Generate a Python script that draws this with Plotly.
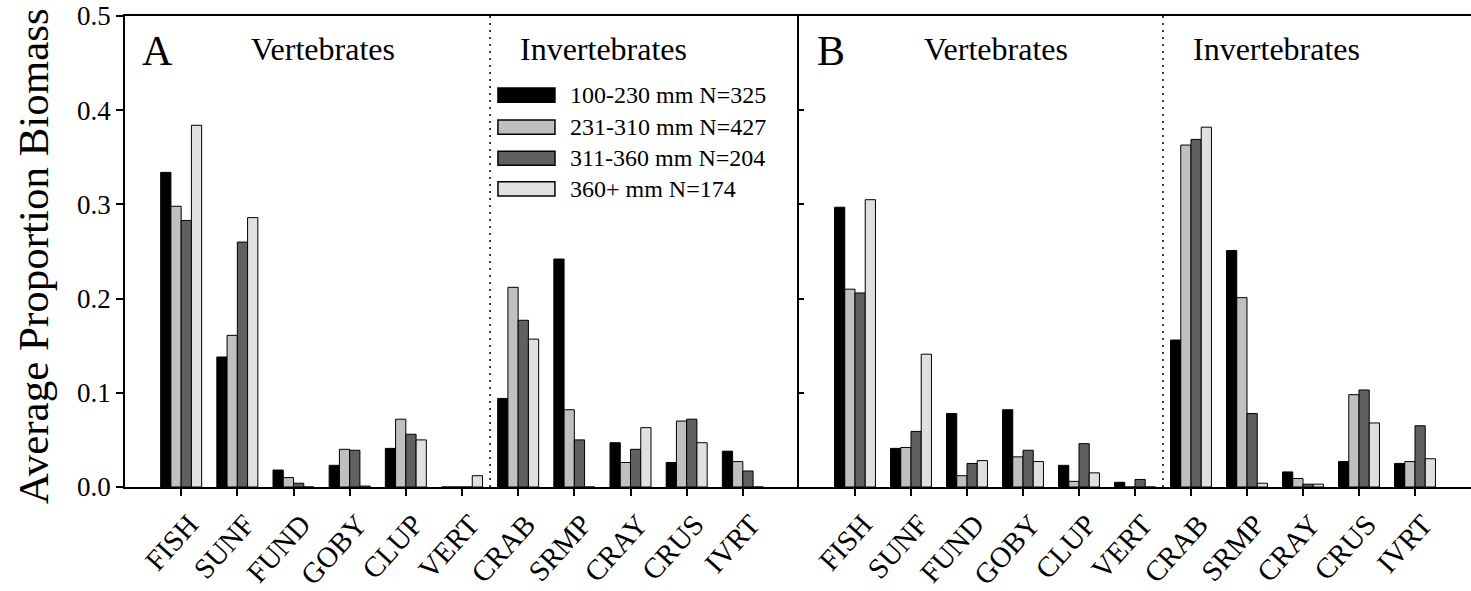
import plotly.graph_objects as go

categories = ["FISH", "SUNF", "FUND", "GOBY", "CLUP", "VERT", "CRAB", "SRMP", "CRAY", "CRUS", "IVRT"]
series_labels = ["100-230 mm N=325", "231-310 mm N=427", "311-360 mm N=204", "360+ mm N=174"]
series_colors = ["#000000", "#c0c0c0", "#606060", "#e0e0e0"]

# Panel A values (per size class)
a_100_230 = [0.334, 0.138, 0.018, 0.023, 0.041, 0.0, 0.094, 0.242, 0.047, 0.026, 0.038]
a_231_310 = [0.298, 0.161, 0.010, 0.040, 0.072, 0.0, 0.212, 0.082, 0.026, 0.070, 0.027]
a_311_360 = [0.283, 0.260, 0.004, 0.039, 0.056, 0.0, 0.177, 0.050, 0.040, 0.072, 0.017]
a_360_plus = [0.384, 0.286, 0.0, 0.001, 0.050, 0.012, 0.157, 0.0, 0.063, 0.047, 0.0]

# Panel B values
b_100_230 = [0.297, 0.041, 0.078, 0.082, 0.023, 0.005, 0.156, 0.251, 0.016, 0.027, 0.025]
b_231_310 = [0.210, 0.042, 0.012, 0.032, 0.006, 0.0, 0.363, 0.201, 0.009, 0.098, 0.027]
b_311_360 = [0.206, 0.059, 0.025, 0.039, 0.046, 0.008, 0.369, 0.078, 0.003, 0.103, 0.065]
b_360_plus = [0.305, 0.141, 0.028, 0.027, 0.015, 0.0, 0.382, 0.004, 0.003, 0.068, 0.030]

panel_labels = ["A", "B"]
group_labels = ["Vertebrates", "Invertebrates"]
y_title = "Average Proportion Biomass"

FONT = "Liberation Serif"

fig = go.Figure()
panel_a = [a_100_230, a_231_310, a_311_360, a_360_plus]
panel_b = [b_100_230, b_231_310, b_311_360, b_360_plus]

for i, vals in enumerate(panel_a):
    fig.add_trace(go.Bar(x=categories, y=vals, name=series_labels[i], marker=dict(color=series_colors[i], line=dict(color="black", width=1)),
                         xaxis="x", yaxis="y", offsetgroup=str(i), showlegend=False))
for i, vals in enumerate(panel_b):
    fig.add_trace(go.Bar(x=categories, y=vals, name=series_labels[i], marker=dict(color=series_colors[i], line=dict(color="black", width=1)),
                         xaxis="x2", yaxis="y2", offsetgroup=str(i), showlegend=False))

split = 674 / 1346
common_x = dict(type="category", range=[-1, 11], showline=True, linecolor="black", linewidth=1.5,
                ticks="outside", ticklen=7, tickwidth=1.5, tickcolor="black", tickangle=-48,
                ticklabelshift=8, automargin=False,
                tickfont=dict(family=FONT, size=29, color="black"), mirror=True, showgrid=False, zeroline=False)
fig.update_layout(
    width=1471, height=591,
    margin=dict(l=125, r=0, t=16, b=104),
    paper_bgcolor="white", plot_bgcolor="white",
    barmode="group", bargap=0.27, bargroupgap=0,
    xaxis=dict(domain=[0, split], anchor="y", **common_x),
    xaxis2=dict(domain=[split, 1], anchor="y2", **common_x),
    yaxis=dict(range=[0, 0.5], dtick=0.1, tickformat=".1f", showline=True, linecolor="black", linewidth=1.5,
               ticks="outside", ticklen=7, tickwidth=1.5, tickcolor="black", showgrid=False, zeroline=False,
               automargin=False,
               tickfont=dict(family=FONT, size=27, color="black"), anchor="x"),
    yaxis2=dict(range=[0, 0.5], dtick=0.1, showline=True, linecolor="black", linewidth=1.5,
                ticks="inside", ticklen=5, tickwidth=1.5, tickcolor="black", showticklabels=False,
                showgrid=False, zeroline=False, anchor="x2", automargin=False),
)

# y-axis title as rotated annotation
fig.add_annotation(x=(33 - 125) / 1346, y=0.49, xref="paper", yref="paper", text=y_title, textangle=-90,
                   showarrow=False, font=dict(family=FONT, size=43, color="black"),
                   xanchor="center", yanchor="middle")

# dotted separators
for xr, yr in [("x", "y"), ("x2", "y2")]:
    fig.add_shape(type="line", xref=xr, yref=yr, x0=5.5, x1=5.5, y0=0, y1=0.5,
                  line=dict(color="black", width=1.5, dash="2px,5px"))

# panel letters and group headers
for (xr, yr), letter in zip([("x", "y"), ("x2", "y2")], panel_labels):
    fig.add_annotation(x=-0.42, y=0.463, xref=xr, yref=yr, text=letter, showarrow=False,
                       font=dict(family=FONT, size=42, color="black"), xanchor="center", yanchor="middle")
    fig.add_annotation(x=2.52, y=0.465, xref=xr, yref=yr, text=group_labels[0], showarrow=False,
                       font=dict(family=FONT, size=32, color="black"), xanchor="center", yanchor="middle")
    fig.add_annotation(x=7.52, y=0.465, xref=xr, yref=yr, text=group_labels[1], showarrow=False,
                       font=dict(family=FONT, size=32, color="black"), xanchor="center", yanchor="middle")

# custom legend in panel A
leg_y = [0.416, 0.382, 0.349, 0.3165]
for i, lab in enumerate(series_labels):
    fig.add_shape(type="rect", xref="x", yref="y", x0=5.64, x1=6.655, y0=leg_y[i] - 0.0075, y1=leg_y[i] + 0.0075,
                  fillcolor=series_colors[i], line=dict(color="black", width=1.5))
    fig.add_annotation(x=6.89, y=leg_y[i], xref="x", yref="y", text=lab, showarrow=False,
                       font=dict(family=FONT, size=24, color="black"), xanchor="left", yanchor="middle")

fig.write_html("out.html")
